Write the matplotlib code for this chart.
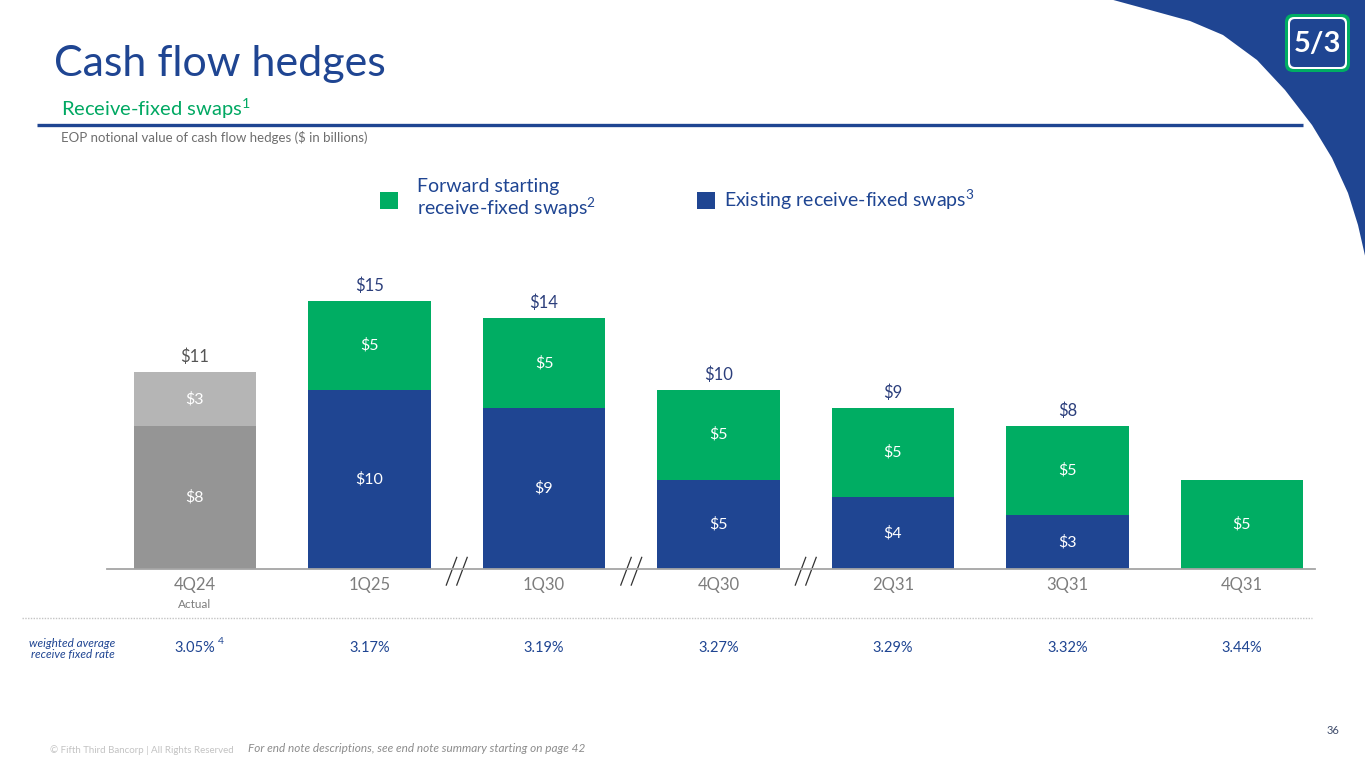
import numpy as np
import matplotlib
matplotlib.use('Agg')
import matplotlib.pyplot as plt
from matplotlib.patches import Polygon, FancyBboxPatch, Rectangle

plt.rcParams['font.family'] = ['Lato', 'DejaVu Sans']
plt.rcParams['mathtext.fontset'] = 'custom'
plt.rcParams['mathtext.rm'] = 'Lato'
plt.rcParams['mathtext.it'] = 'Lato:italic'

# data ($ in billions)
quarters = ['4Q24', '1Q25', '1Q30', '4Q30', '2Q31', '3Q31', '4Q31']
existing = [8, 10, 9, 5, 4, 3, 0]
forward = [3, 5, 5, 5, 5, 5, 5]
totals = [11, 15, 14, 10, 9, 8, None]
rates = ['3.05%', '3.17%', '3.19%', '3.27%', '3.29%', '3.32%', '3.44%']

NAVY = '#1f4592'
GREEN = '#00ad63'
DARK_GRAY = '#959595'
LIGHT_GRAY = '#b5b5b5'
TEXT_GRAY = '#7d7d7d'

W, H = 1365, 768
fig = plt.figure(figsize=(W / 100, H / 100), dpi=100)

# background axes in pixel coordinates (y down) for slide furniture
bg = fig.add_axes([0, 0, 1, 1])
bg.set_xlim(0, W)
bg.set_ylim(H, 0)
bg.axis('off')

# blue corner shape top right (edge)
edge = [(1106, -2), (1150, 10), (1190, 21), (1223, 35), (1257, 60), (1285, 90),
        (1312, 125), (1332, 158), (1348, 193), (1358, 225), (1366, 260)]
pts = edge + [(1370, 262), (1370, -5), (1100, -5)]
bg.add_patch(Polygon(pts, closed=True, color=NAVY, lw=0))

# logo
bg.add_patch(FancyBboxPatch((1285, 14), 65, 58, boxstyle='round,pad=0,rounding_size=8',
                            fc=GREEN, ec='none'))
bg.add_patch(FancyBboxPatch((1288, 17), 59, 52, boxstyle='round,pad=0,rounding_size=6',
                            fc='white', ec='none'))
bg.add_patch(FancyBboxPatch((1290, 19), 55, 48, boxstyle='round,pad=0,rounding_size=5',
                            fc=NAVY, ec='none'))
bg.text(1317.5, 44, '5/3', color='white', fontsize=21, fontweight='bold',
        ha='center', va='center')

# header
bg.text(54, 64, 'Cash flow hedges', color=NAVY, fontsize=31, va='center', ha='left')
bg.text(61, 109, 'Receive-fixed swaps$^{1}$', color='#00a862', fontsize=14.5,
        va='center', ha='left')
bg.plot([37, 1303], [124.5, 124.5], color=NAVY, lw=2.4, solid_capstyle='butt')
bg.text(61, 137, 'EOP notional value of cash flow hedges ($ in billions)',
        color='#6e6e6e', fontsize=9.5, va='center', ha='left')

# legend
bg.add_patch(Rectangle((380, 192), 18, 17, color=GREEN, lw=0))
bg.text(417, 199, 'Forward starting\nreceive-fixed swaps$^{\\mathit{2}}$', color=NAVY,
        fontsize=14, va='center', ha='left', linespacing=1.0)
bg.add_patch(Rectangle((697, 192), 18, 17, color=NAVY, lw=0))
bg.text(724, 200, 'Existing receive-fixed swaps$^{\\mathit{3}}$', color=NAVY,
        fontsize=14, va='center', ha='left')

# dotted separator and rate row
bg.plot([22, 1312], [618, 618], color='#c4c4c4', lw=1, ls=(0, (1, 1)))
bg.text(115, 649, 'weighted average\nreceive fixed rate', color=NAVY, fontsize=8.5,
        style='italic', ha='right', va='center', linespacing=1.1)
bg.text(218, 642, '4', color=NAVY, fontsize=7.5, ha='left', va='center')

# footer
bg.text(50, 750, '\u00a9 Fifth Third Bancorp | All Rights Reserved', color='#c3c3c3',
        fontsize=7, va='center', ha='left')
bg.text(248, 748, 'For end note descriptions, see end note summary starting on page 42',
        color='#8c8c8c', fontsize=8.5, style='italic', va='center', ha='left')
bg.text(1333, 731, '36', color='#3f4c6b', fontsize=8, va='center', ha='center')

# chart axes: baseline at y=569px, 17.9 px per $1bn, bars 174.5 px apart
left_px, right_px, base_px = 107, 1315, 569
ymax = 16
ax = fig.add_axes([left_px / W, (H - base_px) / H, (right_px - left_px) / W,
                   ymax * 17.9 / H])
ax.patch.set_alpha(0)
x0 = (195 - left_px) / 174.5
ax.set_xlim(-x0, -x0 + (right_px - left_px) / 174.5)
ax.set_ylim(0, ymax)
for s in ['top', 'right', 'left']:
    ax.spines[s].set_visible(False)
ax.spines['bottom'].set_color('#a5a5a5')
ax.spines['bottom'].set_linewidth(1.3)
ax.set_yticks([])

x = np.arange(len(quarters))
ex_colors = [DARK_GRAY] + [NAVY] * (len(x) - 1)
fw_colors = [LIGHT_GRAY] + [GREEN] * (len(x) - 1)
ax.bar(x, existing, width=0.7, color=ex_colors, lw=0)
ax.bar(x, forward, width=0.7, bottom=existing, color=fw_colors, lw=0)

ax.set_xticks(x)
ax.set_xticklabels(quarters, color=TEXT_GRAY, fontsize=12)
ax.tick_params(axis='x', length=0, pad=6)

for i in x:
    if existing[i]:
        ax.text(i, existing[i] / 2, f'${existing[i]}', color='white', fontsize=11.5,
                ha='center', va='center')
    if forward[i]:
        ax.text(i, existing[i] + forward[i] / 2, f'${forward[i]}', color='white',
                fontsize=11.5, ha='center', va='center')
    if totals[i] is not None:
        ax.annotate(f'${totals[i]}', (i, existing[i] + forward[i]), xytext=(0, 5),
                    textcoords='offset points', ha='center', va='bottom', fontsize=12,
                    color='#555555' if i == 0 else '#2c3f7c')
    # rate row below the axis
    ax.annotate(rates[i], (i, 0), xytext=(0, -79 * 0.72), textcoords='offset points',
                ha='center', va='center', fontsize=10.5, color=NAVY, annotation_clip=False)

ax.annotate('Actual', (0, 0), xytext=(0, -35 * 0.72), textcoords='offset points',
            ha='center', va='center', fontsize=8.5, color=TEXT_GRAY, annotation_clip=False)

# axis break marks between non-consecutive quarters
for xb in [1.5, 2.5, 3.5]:
    for dx in (-0.03, 0.03):
        ax.plot([xb + dx - 0.03, xb + dx + 0.03], [-0.9, 0.65], color='#333333', lw=0.9,
                clip_on=False)

fig.savefig('out.png', dpi=100)
